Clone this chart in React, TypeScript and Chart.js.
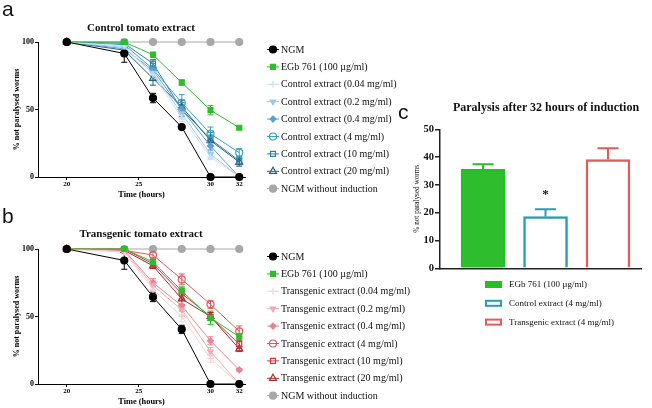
import React, { useEffect, useRef } from 'react';
import { Chart, registerables } from 'chart.js';
import { drawPoint } from 'chart.js/helpers';

Chart.register(...registerables);

const SERIF = "'Liberation Serif', 'Times New Roman', serif";
const SANS = "'Liberation Sans', Arial, sans-serif";
Chart.defaults.font.family = SERIF;
Chart.defaults.color = '#000';

// ---------- shared axis data ----------
const TIMES = [20, 24, 26, 28, 30, 32];
const X_TICKS = [20, 25, 30, 32];
const Y_TICKS_LINE = [0, 50, 100];
const Y_TICKS_BAR = [0, 10, 20, 30, 40, 50];

// ---------- panel a: control tomato extract ----------
const LABELS_A = [
  'NGM',
  'EGb 761 (100 µg/ml)',
  'Control extract (0.04 mg/ml)',
  'Control extract (0.2 mg/ml)',
  'Control extract (0.4 mg/ml)',
  'Control extract (4 mg/ml)',
  'Control extract (10 mg/ml)',
  'Control extract (20 mg/ml)',
  'NGM without induction',
];
const NGM_A = [100, 91.5, 58.5, 37, 0, 0];
const EGB_A = [100, 100, 90.5, 70, 49.5, 36.5];
const CTRL004_A = [100, 97, 76, 44, 15, 0];
const CTRL02_A = [100, 96, 77, 47, 17, 0];
const CTRL04_A = [100, 95, 79, 50, 23, 0];
const CTRL4_A = [100, 98, 80, 55, 32, 18];
const CTRL10_A = [100, 99, 84, 50, 28, 12];
const CTRL20_A = [100, 94, 73, 52, 27, 11];
const NGMWO_A = [100, 100, 100, 100, 100, 100];

const NGM_A_ERR = [0, 6.5, 3.5, 0, 0, 0];
const EGB_A_ERR = [0, 0, 2, 2, 3.5, 1];
const CTRL004_A_ERR = [0, 0, 4, 3, 2, 0];
const CTRL02_A_ERR = [0, 0, 3, 4, 3, 0];
const CTRL04_A_ERR = [0, 0, 3, 3, 3, 0];
const CTRL4_A_ERR = [0, 0, 4, 6, 5, 3];
const CTRL10_A_ERR = [0, 0, 3, 5, 5, 3];
const CTRL20_A_ERR = [0, 0, 5, 5, 4, 3];
const NGMWO_A_ERR = [0, 0, 0, 0, 0, 0];

// ---------- panel b: transgenic tomato extract ----------
const LABELS_B = [
  'NGM',
  'EGb 761 (100 µg/ml)',
  'Transgenic extract (0.04 mg/ml)',
  'Transgenic extract (0.2 mg/ml)',
  'Transgenic extract (0.4 mg/ml)',
  'Transgenic extract (4 mg/ml)',
  'Transgenic extract (10 mg/ml)',
  'Transgenic extract (20 mg/ml)',
  'NGM without induction',
];
const NGM_B = [100, 91.5, 64.5, 40.5, 0, 0];
const EGB_B = [100, 100, 90.5, 69, 49, 35];
const TR004_B = [100, 98, 70, 50, 19, 0];
const TR02_B = [100, 98, 73, 55, 24, 0];
const TR04_B = [100, 99, 75, 58, 32, 10.5];
const TR4_B = [100, 99, 95.5, 77.5, 59, 39];
const TR10_B = [100, 100, 89, 67, 50, 29.5];
const TR20_B = [100, 99, 87.5, 63, 50, 26];
const NGMWO_B = [100, 100, 100, 100, 100, 100];

const NGM_B_ERR = [0, 6.5, 3.5, 3, 0, 0];
const EGB_B_ERR = [0, 0, 2, 3, 5, 2.5];
const TR004_B_ERR = [0, 0, 4, 4, 3, 0];
const TR02_B_ERR = [0, 0, 4, 4, 3, 0];
const TR04_B_ERR = [0, 0, 3, 4, 3, 1];
const TR4_B_ERR = [0, 0, 2, 4, 3, 4];
const TR10_B_ERR = [0, 0, 2, 4, 3, 3];
const TR20_B_ERR = [0, 0, 2, 4, 3, 2];
const NGMWO_B_ERR = [0, 0, 0, 0, 0, 0];

// ---------- panel c: paralysis after 32 h ----------
const BAR_LABELS = ['EGb 761 (100 µg/ml)', 'Control extract (4 mg/ml)', 'Transgenic extract (4 mg/ml)'];
const BAR_VALUES = [35.6, 18.6, 39.1];
const BAR_ERR = [1.8, 2.6, 4.1];
const BAR_SIG = ['', '*', ''];

// ---------- styles ----------
const GREEN = '#2dbd2d';
const GRAY = '#a8a8a8';
const BLUES = ['#c9e2f4', '#9dc8ea', '#5b9fd8', '#3aa5b8', '#2f80a6', '#265f7d'];
const REDS = ['#f6d3d7', '#f1aab2', '#e8858f', '#e2585f', '#d3363c', '#a8262a'];
const MARKERS = [
  { style: 'circle', fill: true, radius: 3.5, rot: 0 },
  { style: 'rect', fill: true, radius: 3.5, rot: 0 },
  { style: 'cross', fill: false, radius: 3.5, rot: 0 },
  { style: 'triangle', fill: true, radius: 3.2, rot: 180 },
  { style: 'rectRot', fill: true, radius: 3, rot: 0 },
  { style: 'circle', fill: false, radius: 3.5, rot: 0 },
  { style: 'rect', fill: false, radius: 3.5, rot: 0 },
  { style: 'triangle', fill: false, radius: 4, rot: 0 },
  { style: 'circle', fill: true, radius: 3.5, rot: 0 },
];

function buildDatasets(labels: string[], values: number[][], errs: number[][], ramp: string[]) {
  const colors = ['#000000', GREEN, ...ramp, GRAY];
  return labels.map((label, i) => {
    const m = MARKERS[i];
    const c = colors[i];
    return {
      label,
      data: TIMES.map((t, j) => ({ x: t, y: values[i][j] })),
      errors: errs[i],
      borderColor: c,
      backgroundColor: c,
      borderWidth: 1,
      pointStyle: m.style,
      pointRotation: m.rot,
      pointRadius: m.radius,
      pointBackgroundColor: m.fill ? c : 'rgba(255,255,255,0)',
      pointBorderColor: c,
      pointBorderWidth: 1.2,
      tension: 0,
      clip: false,
    };
  });
}

const lineErrorPlugin = {
  id: 'lineErrors',
  beforeDatasetsDraw(chart: any) {
    const { ctx } = chart;
    const yScale = chart.scales.y;
    chart.data.datasets.forEach((ds: any, i: number) => {
      const errs: number[] | undefined = ds.errors;
      if (!errs) return;
      const meta = chart.getDatasetMeta(i);
      ctx.save();
      ctx.strokeStyle = ds.borderColor;
      ctx.lineWidth = 1;
      meta.data.forEach((pt: any, j: number) => {
        const e = errs[j];
        if (!e) return;
        const v = ds.data[j].y;
        const yTop = yScale.getPixelForValue(Math.min(100, v + e));
        const yBot = yScale.getPixelForValue(Math.max(0, v - e));
        const x = pt.x;
        ctx.beginPath();
        ctx.moveTo(x, yTop);
        ctx.lineTo(x, yBot);
        ctx.moveTo(x - 3, yTop);
        ctx.lineTo(x + 3, yTop);
        ctx.moveTo(x - 3, yBot);
        ctx.lineTo(x + 3, yBot);
        ctx.stroke();
      });
      ctx.restore();
    });
  },
};

function makeLineLegend(x: number, y0: number, gap: number) {
  return {
    id: 'lineLegend',
    afterDraw(chart: any) {
      const { ctx } = chart;
      ctx.save();
      chart.data.datasets.forEach((ds: any, i: number) => {
        const y = y0 + i * gap;
        ctx.strokeStyle = ds.borderColor;
        ctx.lineWidth = 1;
        ctx.beginPath();
        ctx.moveTo(x - 6, y);
        ctx.lineTo(x + 6, y);
        ctx.stroke();
        ctx.fillStyle = ds.pointBackgroundColor;
        ctx.strokeStyle = ds.pointBorderColor;
        ctx.lineWidth = ds.pointBorderWidth;
        drawPoint(
          ctx,
          { pointStyle: ds.pointStyle, rotation: ds.pointRotation || 0, radius: ds.pointRadius, borderWidth: ds.pointBorderWidth } as any,
          x,
          y
        );
        ctx.fillStyle = '#111';
        ctx.font = `10px ${SERIF}`;
        ctx.textBaseline = 'middle';
        ctx.textAlign = 'left';
        ctx.fillText(ds.label, x + 8, y + 0.5);
      });
      ctx.restore();
    },
  };
}

function buildLineConfig(labels: string[], values: number[][], errs: number[][], ramp: string[]): any {
  return {
    type: 'line',
    data: { datasets: buildDatasets(labels, values, errs, ramp) },
    options: {
      responsive: false,
      animation: false,
      devicePixelRatio: 1,
      layout: { padding: { left: 0, top: 42, right: 175, bottom: 0 } },
      plugins: { legend: { display: false }, tooltip: { enabled: false }, title: { display: false } },
      scales: {
        x: {
          type: 'linear',
          min: 18,
          max: 32.4,
          afterBuildTicks: (s: any) => {
            s.ticks = X_TICKS.map((v) => ({ value: v }));
          },
          afterFit: (s: any) => {
            s.height = 28;
          },
          border: { color: '#000', width: 1 },
          grid: { drawOnChartArea: false, drawTicks: true, tickLength: 3, color: '#000' },
          ticks: { font: { family: SERIF, size: 7, weight: 'bold' }, color: '#000', padding: 0, maxRotation: 0, autoSkip: false },
          title: {
            display: true,
            text: 'Time (hours)',
            color: '#000',
            font: { family: SERIF, size: 8.4, weight: 'bold' },
            padding: { top: 0, bottom: 5 },
          },
        },
        y: {
          min: 0,
          max: 100,
          afterBuildTicks: (s: any) => {
            s.ticks = Y_TICKS_LINE.map((v) => ({ value: v }));
          },
          afterFit: (s: any) => {
            s.width = 38;
          },
          border: { color: '#000', width: 1 },
          grid: { drawOnChartArea: false, drawTicks: true, tickLength: 3, color: '#000' },
          ticks: { font: { family: SERIF, size: 8, weight: 'bold' }, color: '#000', padding: 1 },
          title: {
            display: true,
            text: '% not paralysed worms',
            color: '#000',
            font: { family: SERIF, size: 8, weight: 'bold' },
            padding: { top: 12, bottom: 0 },
          },
        },
      },
    },
    plugins: [lineErrorPlugin, makeLineLegend(273, 49.5, 17.4)],
  };
}

const BAR_BG = [GREEN, '#ffffff', '#ffffff'];
const BAR_BORDER = ['#22c022', '#2b9db0', '#e65a5c'];

const barExtrasPlugin = {
  id: 'barExtras',
  afterDatasetsDraw(chart: any) {
    const { ctx } = chart;
    const yScale = chart.scales.y;
    const meta = chart.getDatasetMeta(0);
    ctx.save();
    meta.data.forEach((bar: any, j: number) => {
      const v = BAR_VALUES[j];
      const e = BAR_ERR[j];
      const yTop = yScale.getPixelForValue(v + e);
      const yVal = yScale.getPixelForValue(v);
      ctx.strokeStyle = BAR_BORDER[j];
      ctx.lineWidth = 2;
      ctx.beginPath();
      ctx.moveTo(bar.x, yVal);
      ctx.lineTo(bar.x, yTop);
      ctx.moveTo(bar.x - 10.5, yTop);
      ctx.lineTo(bar.x + 10.5, yTop);
      ctx.stroke();
      if (BAR_SIG[j]) {
        ctx.fillStyle = '#111';
        ctx.font = `bold 13px ${SERIF}`;
        ctx.textAlign = 'center';
        ctx.textBaseline = 'alphabetic';
        ctx.fillText(BAR_SIG[j], bar.x, yTop - 11);
      }
    });
    // legend
    BAR_LABELS.forEach((label, j) => {
      const y = 184.5 + j * 18.8;
      if (j === 0) {
        ctx.fillStyle = BAR_BORDER[j];
        ctx.fillRect(95, y - 3.5, 17, 7);
      } else {
        ctx.fillStyle = '#fff';
        ctx.fillRect(95, y - 3.5, 17, 7);
        ctx.strokeStyle = BAR_BORDER[j];
        ctx.lineWidth = 2;
        ctx.strokeRect(96, y - 2.5, 15, 5);
      }
      ctx.fillStyle = '#111';
      ctx.font = `9px ${SERIF}`;
      ctx.textAlign = 'left';
      ctx.textBaseline = 'middle';
      ctx.fillText(label, 119, y + 0.5);
    });
    ctx.restore();
  },
};

function buildBarConfig(): any {
  return {
    type: 'bar',
    data: {
      datasets: [
        {
          label: '% not paralysed worms',
          data: BAR_VALUES.map((v, i) => ({ x: i + 1, y: v })),
          backgroundColor: BAR_BG,
          borderColor: BAR_BORDER,
          borderWidth: 2.5,
          borderSkipped: 'bottom',
          barThickness: 44,
        },
      ],
    },
    options: {
      responsive: false,
      animation: false,
      devicePixelRatio: 1,
      layout: { padding: { left: 0, top: 29.3, right: 10.3, bottom: 66.7 } },
      plugins: { legend: { display: false }, tooltip: { enabled: false }, title: { display: false } },
      scales: {
        x: {
          type: 'linear',
          min: 0.31,
          max: 3.54,
          offset: false,
          bounds: 'data',
          afterFit: (s: any) => {
            s.height = 0;
          },
          border: { color: '#222', width: 1.5 },
          grid: { display: false, drawTicks: false, offset: false },
          ticks: { display: false },
        },
        y: {
          min: 0,
          max: 50,
          afterBuildTicks: (s: any) => {
            s.ticks = Y_TICKS_BAR.map((v) => ({ value: v }));
          },
          afterFit: (s: any) => {
            s.width = 50;
          },
          border: { color: '#222', width: 1.5 },
          grid: { drawOnChartArea: false, drawTicks: true, tickLength: 5, color: '#222', lineWidth: 1.5 },
          ticks: { font: { family: SERIF, size: 10.5, weight: 'bold' }, color: '#111', padding: 1 },
          title: {
            display: true,
            text: '% not paralysed worms',
            color: '#111',
            font: { family: SERIF, size: 7.2 },
            padding: { top: 22.4, bottom: 0 },
          },
        },
      },
    },
    plugins: [barExtrasPlugin],
  };
}

function ChartBox(props: { left: number; top: number; width: number; height: number; build: () => any }) {
  const ref = useRef<HTMLCanvasElement>(null);
  useEffect(() => {
    const chart = new Chart(ref.current as HTMLCanvasElement, props.build());
    return () => chart.destroy();
  }, []);
  return (
    <div style={{ position: 'absolute', left: props.left, top: props.top, width: props.width, height: props.height }}>
      <canvas ref={ref} width={props.width} height={props.height} style={{ width: props.width, height: props.height, display: 'block' }} />
    </div>
  );
}

function Text(props: { x: number; y: number; size: number; bold?: boolean; family?: string; children: React.ReactNode; center?: boolean }) {
  const h = Math.round(props.size * 1.3);
  return (
    <div
      style={{
        position: 'absolute',
        left: props.x,
        top: props.y - h / 2,
        height: h,
        lineHeight: `${h}px`,
        fontSize: props.size,
        fontWeight: props.bold ? 'bold' : 'normal',
        fontFamily: props.family || SERIF,
        whiteSpace: 'nowrap',
        transform: props.center ? 'translateX(-50%)' : undefined,
        color: '#111',
      }}
    >
      {props.children}
    </div>
  );
}

export default function App() {
  const valuesA = [NGM_A, EGB_A, CTRL004_A, CTRL02_A, CTRL04_A, CTRL4_A, CTRL10_A, CTRL20_A, NGMWO_A];
  const errsA = [NGM_A_ERR, EGB_A_ERR, CTRL004_A_ERR, CTRL02_A_ERR, CTRL04_A_ERR, CTRL4_A_ERR, CTRL10_A_ERR, CTRL20_A_ERR, NGMWO_A_ERR];
  const valuesB = [NGM_B, EGB_B, TR004_B, TR02_B, TR04_B, TR4_B, TR10_B, TR20_B, NGMWO_B];
  const errsB = [NGM_B_ERR, EGB_B_ERR, TR004_B_ERR, TR02_B_ERR, TR04_B_ERR, TR4_B_ERR, TR10_B_ERR, TR20_B_ERR, NGMWO_B_ERR];
  return (
    <div style={{ position: 'absolute', left: 0, top: 0, width: 652, height: 408, overflow: 'hidden', background: '#fff' }}>
      <ChartBox left={0} top={0} width={420} height={205} build={() => buildLineConfig(LABELS_A, valuesA, errsA, BLUES)} />
      <ChartBox left={0} top={207} width={420} height={205} build={() => buildLineConfig(LABELS_B, valuesB, errsB, REDS)} />
      <ChartBox left={390} top={100} width={262} height={235} build={buildBarConfig} />
      <Text x={141} y={26.7} size={11} bold center>Control tomato extract</Text>
      <Text x={141} y={233.3} size={11} bold center>Transgenic tomato extract</Text>
      <Text x={546} y={107.3} size={12} bold center>Paralysis after 32 hours of induction</Text>
      <Text x={2} y={8} size={21} family={SANS}>a</Text>
      <Text x={2} y={215} size={21} family={SANS}>b</Text>
      <Text x={398} y={111} size={21} family={SANS}>c</Text>
    </div>
  );
}
